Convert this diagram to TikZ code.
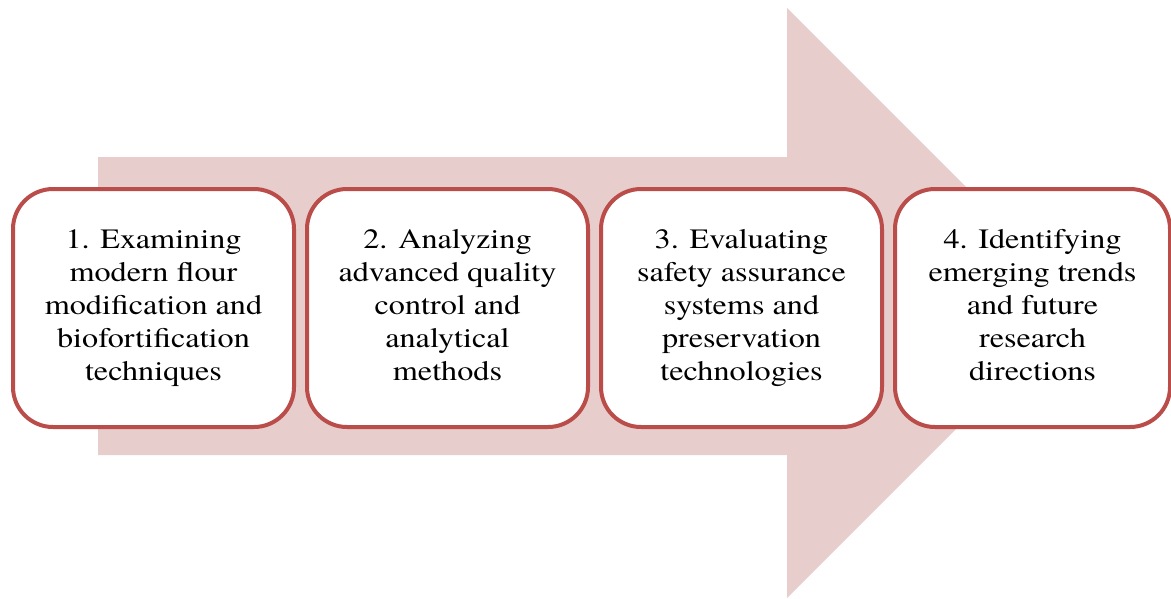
\documentclass[tikz,border=0pt]{standalone}
\usepackage{fontspec}
\setmainfont{texgyretermes}[Extension=.otf, UprightFont=*-regular, BoldFont=*-bold, FakeStretch=1.15]
\definecolor{arrowpink}{RGB}{232,205,205}
\definecolor{boxred}{RGB}{186,76,73}
\begin{document}
\begin{tikzpicture}[x=1pt,y=-1pt,
  stepbox/.style={draw=boxred, line width=4pt, fill=white, rounded corners=40pt,
    minimum width=281pt, minimum height=238pt, inner sep=0pt, align=center,
    font=\fontsize{28}{33}\selectfont, anchor=north west}]
\useasboundingbox (0,0) rectangle (1171,598);
\fill[arrowpink] (98,157) -- (787,157) -- (787,8) -- (1082,303) -- (787,598) -- (787,455) -- (98,455) -- cycle;
\node[stepbox] (s1) at (11,187) {\strut 1. Examining\\modern flour\\modification and\\biofortification\\techniques\strut};
\node[stepbox] (s2) at (305,187) {\strut 2. Analyzing\\advanced quality\\control and\\analytical\\methods\strut};
\node[stepbox] (s3) at (599,187) {\strut 3. Evaluating\\safety assurance\\systems and\\preservation\\technologies\strut};
\node[stepbox, minimum width=275pt] (s4) at (893,187) {\strut 4. Identifying\\emerging trends\\and future\\research\\directions\strut};
\end{tikzpicture}
\end{document}
